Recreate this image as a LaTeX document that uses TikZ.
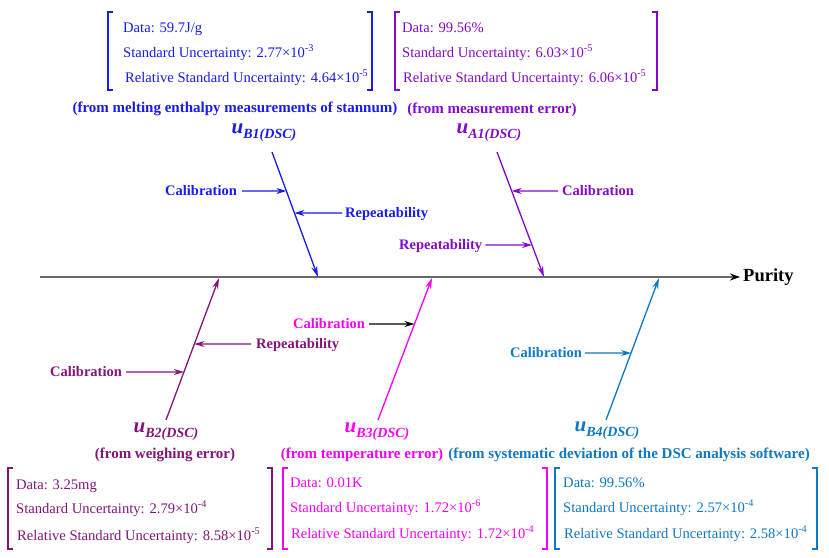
\documentclass[tikz,border=0pt]{standalone}
\usepackage{fontspec}
\setmainfont{Liberation Serif}
\usetikzlibrary{arrows.meta}
\definecolor{cBone}{RGB}{25,25,240}
\definecolor{cAone}{RGB}{130,10,200}
\definecolor{cBtwo}{RGB}{130,20,120}
\definecolor{cBthree}{RGB}{245,0,245}
\definecolor{cBfour}{RGB}{15,120,195}
\definecolor{axisgray}{RGB}{105,105,105}
\newcommand{\ulabel}[1]{{\fontsize{21}{21}\selectfont\bfseries\itshape u}\raisebox{-5pt}{\fontsize{14}{14}\selectfont\bfseries\itshape #1}}
\tikzset{
 boxtxt/.style={anchor=base west, inner sep=0, font=\fontsize{14.6}{16}\selectfont},
 lbl/.style={anchor=west, inner sep=0, text height=9.8pt, text depth=0pt, font=\fontsize{14.5}{16}\selectfont\bfseries},
 captxt/.style={anchor=base, inner sep=0, font=\fontsize{15}{16}\selectfont\bfseries},
 ulab/.style={inner sep=0},
 branch/.style={line width=1.3pt, -{Stealth[length=11pt,width=6pt]}},
 smallarr/.style={line width=1.2pt, -{Stealth[length=10pt,width=6pt]}},
 brk/.style={line width=1.2pt},
}
\begin{document}
\begin{tikzpicture}[x=1pt,y=-1pt]
\useasboundingbox (0,0) rectangle (829,557);
% axis
\coordinate (axL) at (40,277);
\node[anchor=west, inner sep=0, font=\fontsize{18.5}{20}\selectfont\bfseries] (purity) at (743,277) {Purity};
\draw[axisgray, line width=2.5pt, -{Stealth[length=10pt,width=7pt,color=black]}] (axL) -- ([xshift=-3pt]purity.west);

% ===== B1 =====
\begin{scope}[cBone]
\node[ulab] (uB1) at (264,133) {\ulabel{B1(DSC)}};
\coordinate (sB1) at (272,152);
\coordinate (eB1) at (318,277);
\draw[branch] (sB1) -- (eB1);
\node[lbl] (calB1) at (165,191) {Calibration};
\node[lbl] (repB1) at (345,213) {Repeatability};
\draw[smallarr] ([xshift=5pt]calB1.east) -- (intersection of calB1.west--calB1.east and sB1--eB1);
\draw[smallarr] ([xshift=-3pt]repB1.west) -- (intersection of repB1.west--repB1.east and sB1--eB1);
\node[boxtxt] (dB1) at (123,32) {Data: 59.7J/g};
\node[boxtxt] (sdB1) at (123,57) {Standard Uncertainty: 2.77\texttimes 10\textsuperscript{-3}};
\node[boxtxt] (rB1) at (125,82) {Relative Standard Uncertainty: 4.64\texttimes 10\textsuperscript{-5}};
\draw[brk] (113,12) -- (108,12) -- (108,90) -- (113,90);
\draw[brk] (367,12) -- (372,12) -- (372,90) -- (367,90);
\node[captxt] (cB1) at (235,112) {(from melting enthalpy measurements of stannum)};
\end{scope}

% ===== A1 =====
\begin{scope}[cAone]
\node[ulab] (uA1) at (489,133) {\ulabel{A1(DSC)}};
\coordinate (sA1) at (497,152);
\coordinate (eA1) at (544,277);
\draw[branch] (sA1) -- (eA1);
\node[lbl] (calA1) at (562,191) {Calibration};
\node[lbl] (repA1) at (399,245) {Repeatability};
\draw[smallarr] ([xshift=-4pt]calA1.west) -- (intersection of calA1.west--calA1.east and sA1--eA1);
\draw[smallarr] ([xshift=3pt]repA1.east) -- (intersection of repA1.west--repA1.east and sA1--eA1);
\node[boxtxt] (dA1) at (402,32) {Data: 99.56\%};
\node[boxtxt] (sdA1) at (402,57) {Standard Uncertainty: 6.03\texttimes 10\textsuperscript{-5}};
\node[boxtxt] (rA1) at (403,82) {Relative Standard Uncertainty: 6.06\texttimes 10\textsuperscript{-5}};
\draw[brk] (400,12) -- (395,12) -- (395,90) -- (400,90);
\draw[brk] (652,12) -- (657,12) -- (657,90) -- (652,90);
\node[captxt] (cA1) at (492,113) {(from measurement error)};
\end{scope}

% ===== B2 =====
\begin{scope}[cBtwo]
\coordinate (sB2) at (166,420);
\coordinate (eB2) at (219,278);
\draw[branch] (sB2) -- (eB2);
\node[lbl] (repB2) at (256,344) {Repeatability};
\node[lbl] (calB2) at (50,372) {Calibration};
\draw[smallarr] ([xshift=-5pt]repB2.west) -- (intersection of repB2.west--repB2.east and sB2--eB2);
\draw[smallarr] ([xshift=4pt]calB2.east) -- (intersection of calB2.west--calB2.east and sB2--eB2);
\node[ulab] (uB2) at (166,432) {\ulabel{B2(DSC)}};
\node[captxt] (cB2) at (165,458) {(from weighing error)};
\node[boxtxt] (dB2) at (16,489) {Data: 3.25mg};
\node[boxtxt] (sdB2) at (16,513) {Standard Uncertainty: 2.79\texttimes 10\textsuperscript{-4}};
\node[boxtxt] (rB2) at (17,540) {Relative Standard Uncertainty: 8.58\texttimes 10\textsuperscript{-5}};
\draw[brk] (13,468) -- (8,468) -- (8,549) -- (13,549);
\draw[brk] (267,468) -- (272,468) -- (272,549) -- (267,549);
\end{scope}

% ===== B3 =====
\begin{scope}[cBthree]
\coordinate (sB3) at (378,420);
\coordinate (eB3) at (432,278);
\draw[branch] (sB3) -- (eB3);
\node[lbl] (calB3) at (293,324) {Calibration};
\draw[smallarr, black] ([xshift=4pt]calB3.east) -- (intersection of calB3.west--calB3.east and sB3--eB3);
\node[ulab] (uB3) at (377,432) {\ulabel{B3(DSC)}};
\node[captxt] (cB3) at (362,458) {(from temperature error)};
\node[boxtxt] (dB3) at (290,487) {Data: 0.01K};
\node[boxtxt] (sdB3) at (290,512) {Standard Uncertainty: 1.72\texttimes 10\textsuperscript{-6}};
\node[boxtxt] (rB3) at (291,538) {Relative Standard Uncertainty: 1.72\texttimes 10\textsuperscript{-4}};
\draw[brk] (288,468) -- (283,468) -- (283,549) -- (288,549);
\draw[brk] (542,468) -- (547,468) -- (547,549) -- (542,549);
\end{scope}

% ===== B4 =====
\begin{scope}[cBfour]
\coordinate (sB4) at (606,420);
\coordinate (eB4) at (659,278);
\draw[branch] (sB4) -- (eB4);
\node[lbl] (calB4) at (510,353) {Calibration};
\draw[smallarr] ([xshift=3pt]calB4.east) -- (intersection of calB4.west--calB4.east and sB4--eB4);
\node[ulab] (uB4) at (607,431) {\ulabel{B4(DSC)}};
\node[captxt] (cB4) at (629,458) {(from systematic deviation of the DSC analysis software)};
\node[boxtxt] (dB4) at (563,487) {Data: 99.56\%};
\node[boxtxt] (sdB4) at (563,512) {Standard Uncertainty: 2.57\texttimes 10\textsuperscript{-4}};
\node[boxtxt] (rB4) at (564,538) {Relative Standard Uncertainty: 2.58\texttimes 10\textsuperscript{-4}};
\draw[brk] (560,468) -- (555,468) -- (555,549) -- (560,549);
\draw[brk] (812,468) -- (817,468) -- (817,549) -- (812,549);
\end{scope}
\end{tikzpicture}
\end{document}
